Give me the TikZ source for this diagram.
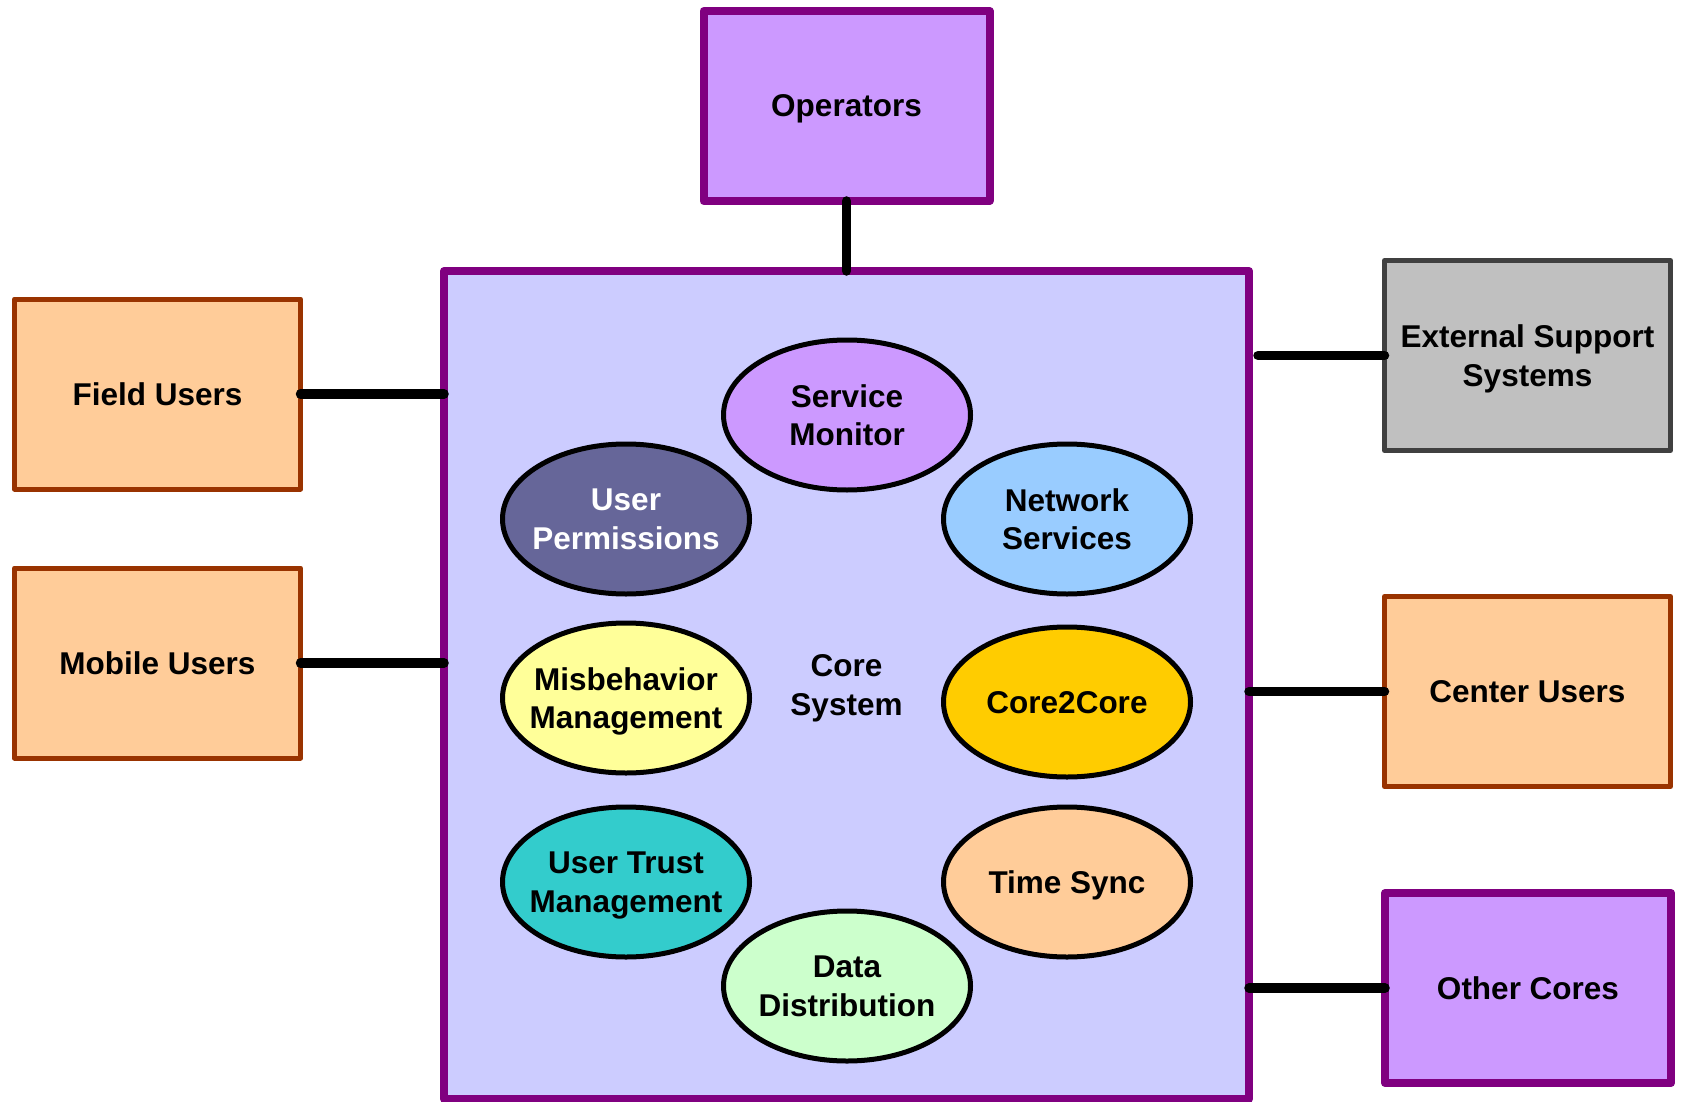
\documentclass[tikz,border=0pt]{standalone}
\usepackage{fontspec}
\setmainfont{Liberation Sans}
\usetikzlibrary{shapes.geometric}

\definecolor{corefill}{HTML}{CCCCFF}
\definecolor{purpleline}{HTML}{800080}
\definecolor{purplefill}{HTML}{CC99FF}
\definecolor{userfill}{HTML}{FFCC99}
\definecolor{userline}{HTML}{993300}
\definecolor{extfill}{HTML}{C0C0C0}
\definecolor{extline}{HTML}{404040}
\definecolor{permfill}{HTML}{666699}
\definecolor{netfill}{HTML}{99CCFF}
\definecolor{misbfill}{HTML}{FFFF99}
\definecolor{ctocfill}{HTML}{FFCC00}
\definecolor{trustfill}{HTML}{33CCCC}
\definecolor{datafill}{HTML}{CCFFCC}

\def\labelfont{\bfseries\fontsize{31.5}{38.5}\selectfont}

\tikzset{
	txt/.style={font=\labelfont, align=center, inner sep=0pt, text depth=0pt},
	box/.style={txt, rectangle, line width=5pt, line join=round, outer sep=0pt, minimum width=286pt, minimum height=190pt},
	purplebox/.style={box, draw=purpleline, fill=purplefill, line width=8pt},
	userbox/.style={box, draw=userline, fill=userfill},
	extbox/.style={box, draw=extline, fill=extfill},
	oval/.style={ellipse, draw=black, line width=5pt, minimum width=247pt, minimum height=150pt, inner sep=0pt},
	link/.style={line width=9.5pt, line cap=round}
}

\begin{document}
\begin{tikzpicture}[x=1pt, y=-1pt]
	\useasboundingbox (0,0) rectangle (1681,1102);
	
	\node[box, draw=purpleline, fill=corefill, line width=8pt, minimum width=805pt, minimum height=828pt] (core) at (846.5,685) {Core\\System};
	
	\node[purplebox] (ops) at (846.5,106) {Operators};
	\node[userbox] (field) at (157.5,394) {Field Users};
	\node[userbox] (mobile) at (157.5,663) {Mobile Users};
	\node[extbox] (ext) at (1527.5,355.5) {External Support\\Systems};
	\node[userbox] (center) at (1527.5,691.5) {Center Users};
	\node[purplebox] (others) at (1528,988) {Other Cores};
	
	\node[oval, fill=purplefill] (smon) at (847,415) {};
	\node[txt] (smon-t) at (smon) {Service\\Monitor};
	\node[oval, fill=permfill] (uperm) at (626,519) {};
	\node[txt, text=white] (uperm-t) at (uperm) {User\\Permissions};
	\node[oval, fill=netfill] (netsrv) at (1067,519) {};
	\node[txt] (netsrv-t) at (netsrv) {Network\\Services};
	\node[oval, fill=misbfill] (misb) at (626,698) {};
	\node[txt] (misb-t) at (misb) {Misbehavior\\Management};
	\node[oval, fill=ctocfill] (ctoc) at (1067,702) {};
	\node[txt] (ctoc-t) at (ctoc) {Core2Core};
	\node[oval, fill=trustfill] (utrust) at (626,882) {};
	\node[txt] (utrust-t) at (utrust) {User Trust\\Management};
	\node[oval, fill=userfill] (tsync) at (1067,882) {};
	\node[txt] (tsync-t) at (tsync) {Time Sync};
	\node[oval, fill=datafill] (ddist) at (847,986) {};
	\node[txt] (ddist-t) at (ddist) {Data\\Distribution};
	
	\draw[link] (ops.south) -- (core.north);
	\draw[link] (field.east) -- (field.east -| core.west);
	\draw[link] (mobile.east) -- (mobile.east -| core.west);
	\draw[link] (ext.west) -- ([xshift=9pt]ext.west -| core.east);
	\draw[link] (center.west) -- (center.west -| core.east);
	\draw[link] (others.west) -- (others.west -| core.east);
	
\end{tikzpicture}
\end{document}
